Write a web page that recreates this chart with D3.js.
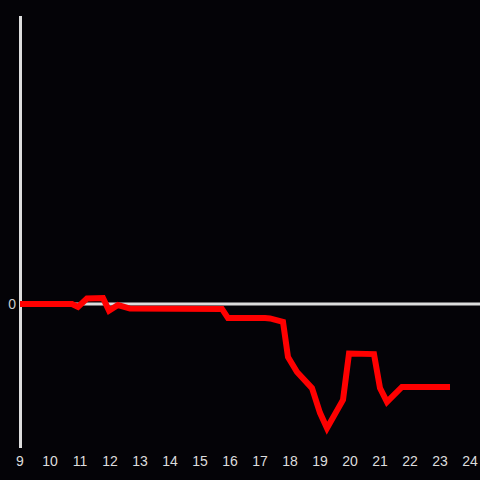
<!DOCTYPE html>
<html><head><meta charset="utf-8">
<script src="https://cdn.jsdelivr.net/npm/d3@7"></script>
<style>html,body{margin:0;padding:0;background:#040307;}svg{display:block;}</style>
</head><body>
<svg id="c" width="480" height="480"></svg>
<script>
const hours = [9.0,10.733,10.933,11.233,11.767,11.967,12.267,12.667,15.733,15.933,17.167,17.333,17.767,17.933,18.233,18.733,19.0,19.233,19.767,19.967,20.8,21.0,21.233,21.733,23.333];
const values = [0,0,-1.0,1.9,2.1,-2.3,-0.35,-1.6,-1.7,-4.9,-4.9,-5.0,-6.2,-18.4,-23.6,-29.2,-37.8,-43.1,-33.3,-17.2,-17.4,-29.2,-34.0,-28.8,-28.8];
const xTicks = [9,10,11,12,13,14,15,16,17,18,19,20,21,22,23,24];
const yTicks = [0];

const svg = d3.select("#c");
svg.append("rect").attr("width",480).attr("height",480).attr("fill","#040307");
const x = d3.scaleLinear().domain([9,24]).range([20,470]);
const y = d3.scaleLinear().domain([-50,100]).range([448,16]);

// y axis line
svg.append("line").attr("x1",20.5).attr("x2",20.5).attr("y1",y(100)).attr("y2",y(-50))
  .attr("stroke","#dddddd").attr("stroke-width",3);
// zero line
svg.append("line").attr("x1",20).attr("x2",480).attr("y1",y(0)).attr("y2",y(0))
  .attr("stroke","#dddddd").attr("stroke-width",3);

// y tick labels
svg.selectAll(".yl").data(yTicks).enter().append("text")
  .attr("x",16).attr("y",d=>y(d)).attr("dy","0.35em").attr("text-anchor","end")
  .attr("fill","#cccccc").attr("font-family","Liberation Sans, Arial, sans-serif").attr("font-size",14)
  .text(d=>d);

// x tick labels
svg.selectAll(".xl").data(xTicks).enter().append("text")
  .attr("x",d=>x(d)).attr("y",461).attr("dy","0.35em").attr("text-anchor","middle")
  .attr("fill","#dddddd").attr("font-family","Liberation Sans, Arial, sans-serif").attr("font-size",14)
  .text(d=>d);

const line = d3.line().x((d,i)=>x(hours[i])).y((d,i)=>y(values[i]));
svg.append("path").attr("d",line(values)).attr("fill","none")
  .attr("stroke","#ff0000").attr("stroke-width",6).attr("stroke-linejoin","miter");
</script>
</body></html>
